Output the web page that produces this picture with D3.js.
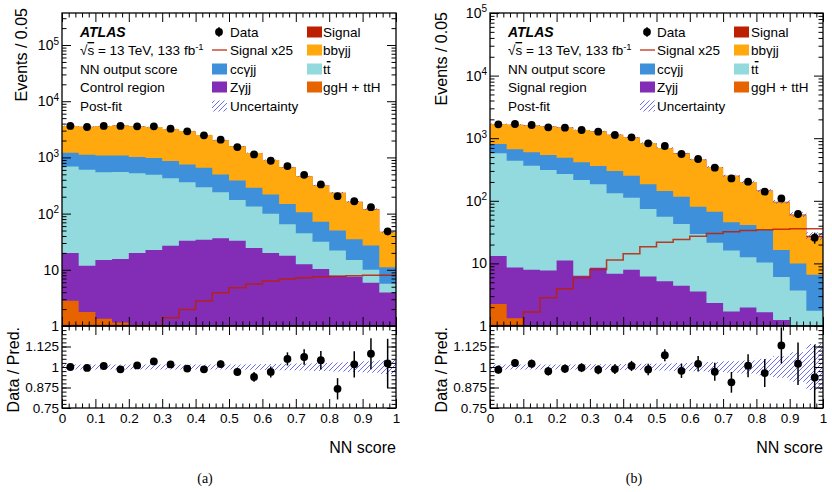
<!DOCTYPE html>
<html>
<head>
<meta charset="utf-8">
<script src="https://cdn.jsdelivr.net/npm/d3@7"></script>
<style>
  body { margin: 0; background: #fff; }
  svg { font-family: "Liberation Sans", Arial, sans-serif; }
  .axis path { display: none; }
  .axis line { stroke: #000; stroke-width: 1; }
  .axis text { font-size: 13.5px; fill: #000; font-family: "Liberation Sans", Arial, sans-serif; }
</style>
</head>
<body>
<div id="chart"></div>
<script>
// NN score bins (lower edges, width 0.05)
var binLow = [0, 0.05, 0.1, 0.15, 0.2, 0.25, 0.3, 0.35, 0.4, 0.45,
              0.5, 0.55, 0.6, 0.65, 0.7, 0.75, 0.8, 0.85, 0.9, 0.95];

// (a) control region, post-fit
var dataA   = [3630, 3480, 3630, 3630, 3580, 3580, 3250, 2913, 2470, 2067, 1530, 1132, 872, 700, 490, 330, 204, 166, 130, 48.4];
var bbyjjA  = [2419, 2385, 2522, 2596, 2531, 2489, 2339, 2192, 1851, 1533, 1189, 917, 681, 518, 356, 245, 185, 128, 93, 36];
var ccyjjA  = [520, 514, 539, 539, 489, 483, 433, 387, 359, 257, 213, 154, 119, 84, 61, 40, 28, 20, 17, 5.4];
var ttbarA  = [671, 590, 532, 532, 505, 468, 400, 330, 261, 204, 142, 109, 79, 47, 32, 21.3, 14.2, 7.5, 4.1, 1.7];
var zyjjA   = [17.1, 10.0, 13.6, 14.4, 19.1, 21.8, 26.2, 32.5, 33.9, 35.9, 32.7, 24.1, 19.7, 17.6, 12.4, 10.2, 7.7, 7.4, 5.8, 3.9];
var gghA    = [2.8, 1.78, 1.35, 1.15, 0.8, 0.7, 0.6, 0.5, 0.45, 0.4, 0.35, 0.3, 0.25, 0.2, 0.18, 0.15, 0.12, 0.1, 0.08, 0.05];
var sig25A  = [0.1, 0.2, 0.3, 0.45, 0.65, 0.9, 1.37, 1.93, 2.72, 3.83, 4.7, 5.5, 6.2, 6.7, 7.1, 7.4, 7.5, 7.7, 7.8, 7.8];
var uncA    = [0.015, 0.015, 0.015, 0.015, 0.015, 0.015, 0.015, 0.015, 0.015, 0.015, 0.016, 0.017, 0.018, 0.02, 0.022, 0.025, 0.028, 0.03, 0.035, 0.042];
var errA    = [0.017, 0.017, 0.017, 0.017, 0.017, 0.017, 0.018, 0.019, 0.02, 0.022, 0.025, 0.03, 0.034, 0.04, 0.047, 0.057, 0.065, 0.08, 0.095, 0.15];

// (b) signal region, post-fit
var dataB   = [1666, 1686, 1625, 1492, 1473, 1352, 1271, 1125, 1032, 828, 750, 559, 465, 338, 228, 202, 140, 109, 61.5, 25.8];
var bbyjjB  = [885, 982, 998, 993, 999, 945, 932, 840, 773, 657, 556, 456, 375, 280, 205, 158, 110, 78.6, 48.9, 19.6];
var ccyjjB  = [235, 226, 231, 229, 221, 197, 177, 167, 140, 109, 87, 73, 50.5, 45.6, 29.3, 28.5, 23.7, 10.3, 6.3, 4.8];
var ttbarB  = [560, 429, 356, 302, 257, 209, 175, 125, 104, 68, 50.6, 38.2, 26, 19, 14.3, 10.6, 8.7, 4.8, 2.8, 0.96];
var zyjjB   = [10.9, 7.3, 7.1, 7.1, 10.6, 5.9, 8.1, 6.5, 7.6, 5.9, 5.0, 4.2, 3.4, 2.2, 1.6, 1.9, 1.6, 1.2, 0.86, 0.77];
var gghB    = [2.25, 1.33, 0.8, 0.6, 0.5, 0.45, 0.4, 0.35, 0.3, 0.25, 0.2, 0.18, 0.15, 0.12, 0.1, 0.08, 0.06, 0.05, 0.04, 0.03];
var sig25B  = [0.5, 0.85, 1.65, 2.77, 3.85, 5.77, 7.85, 11.1, 14.0, 18.1, 21.4, 23.6, 26.7, 29.5, 31.4, 33.0, 33.8, 34.6, 35.0, 35.0];
var uncB    = [0.016, 0.016, 0.016, 0.016, 0.016, 0.016, 0.017, 0.018, 0.018, 0.02, 0.022, 0.024, 0.026, 0.03, 0.035, 0.04, 0.05, 0.065, 0.09, 0.14];
var errB    = [0.025, 0.025, 0.025, 0.026, 0.026, 0.027, 0.028, 0.03, 0.031, 0.035, 0.037, 0.043, 0.047, 0.055, 0.063, 0.07, 0.085, 0.11, 0.13, 0.2];

// stack order, bottom to top
var keys = ["ggh", "zyjj", "ttbar", "ccyjj", "bbyjj", "signal"];
var colors = {ggh: "#e76300", zyjj: "#832db6", ttbar: "#92dadd", ccyjj: "#3f90da", bbyjj: "#ffa90e", signal: "#bd1f01"};
var hatchColor = "#5b5bf0";

var panels = [
  {id: "a", data: dataA, bbyjj: bbyjjA, ccyjj: ccyjjA, ttbar: ttbarA, zyjj: zyjjA, ggh: gghA, sig25: sig25A, unc: uncA, err: errA,
   region: "Control region", caption: "(a)",
   x0: 62, x1: 396, yTop: 13, yMid: 326, yBot: 408, ymax: Math.pow(10, 5.57),
   eventsX: 27, eventsY: 8, ratioX: 19, capX: 205,
   legX: 80, c2Box: 212, c2Text: 230, c3Box: 307, c3Text: 323},
  {id: "b", data: dataB, bbyjj: bbyjjB, ccyjj: ccyjjB, ttbar: ttbarB, zyjj: zyjjB, ggh: gghB, sig25: sig25B, unc: uncB, err: errB,
   region: "Signal region", caption: "(b)",
   x0: 490, x1: 823, yTop: 13, yMid: 326, yBot: 408, ymax: 1e5,
   eventsX: 447, eventsY: 12, ratioX: 447, capX: 634,
   legX: 508, c2Box: 640, c2Text: 657, c3Box: 734, c3Text: 751}
];

var svg = d3.select("#chart").append("svg")
    .attr("width", 832)
    .attr("height", 492);

var defs = svg.append("defs");
defs.append("pattern")
    .attr("id", "hatch")
    .attr("patternUnits", "userSpaceOnUse")
    .attr("width", 5).attr("height", 5)
    .append("path")
    .attr("d", "M-1,1 l2,-2 M0,5 l5,-5 M4,6 l2,-2")
    .attr("stroke", hatchColor)
    .attr("stroke-width", 0.9);

panels.forEach(drawPanel);

function drawPanel(p) {
    var g = svg.append("g");
    var x = d3.scaleLinear().domain([0, 1]).range([p.x0, p.x1]);
    var y = d3.scaleLog().domain([1, p.ymax]).range([p.yMid, p.yTop]).clamp(true);
    var yr = d3.scaleLinear().domain([0.75, 1.25]).range([p.yBot, p.yMid]);
    var ys = function(v) { return y(Math.max(v, 1e-3)); };

    // table for the stack; repeat last bin at x = 1 to close the steps
    var rows = binLow.map(function(lo, i) {
        return {x: lo, ggh: p.ggh[i], zyjj: p.zyjj[i], ttbar: p.ttbar[i], ccyjj: p.ccyjj[i],
                bbyjj: p.bbyjj[i], signal: p.sig25[i] / 25, sig25: p.sig25[i], unc: p.unc[i]};
    });
    rows.forEach(function(r) { r.total = d3.sum(keys, function(k) { return r[k]; }); });
    var stepRows = rows.concat([Object.assign({}, rows[rows.length - 1], {x: 1})]);
    var series = d3.stack().keys(keys)(stepRows);

    var clipMain = "clipMain" + p.id, clipRatio = "clipRatio" + p.id;
    defs.append("clipPath").attr("id", clipMain).append("rect")
        .attr("x", p.x0).attr("y", p.yTop).attr("width", p.x1 - p.x0).attr("height", p.yMid - p.yTop);
    defs.append("clipPath").attr("id", clipRatio).append("rect")
        .attr("x", p.x0).attr("y", p.yMid).attr("width", p.x1 - p.x0).attr("height", p.yBot - p.yMid);

    var main = g.append("g").attr("clip-path", "url(#" + clipMain + ")");

    // stacked histograms, drawn top-down each filled to the floor
    var area = d3.area()
        .curve(d3.curveStepAfter)
        .x(function(d) { return x(d.data.x); })
        .y0(p.yMid)
        .y1(function(d) { return ys(d[1]); });
    main.selectAll(".layer")
        .data(series.slice().reverse())
        .enter().append("path")
        .attr("class", "layer")
        .attr("d", area)
        .attr("fill", function(d) { return colors[d.key]; });

    // signal x25 line
    var sigLine = d3.line()
        .curve(d3.curveStepAfter)
        .x(function(d) { return x(d.x); })
        .y(function(d) { return ys(d.sig25) - 0.5; });
    main.append("path")
        .attr("d", sigLine(stepRows))
        .attr("fill", "none")
        .attr("stroke", "#bd1f01")
        .attr("stroke-width", 1.5)
        .attr("stroke-opacity", 0.85);

    // uncertainty band
    var band = d3.area()
        .curve(d3.curveStepAfter)
        .x(function(d) { return x(d.x); })
        .y0(function(d) { return ys(d.total * (1 - d.unc)); })
        .y1(function(d) { return ys(d.total * (1 + d.unc)); });
    main.append("path").attr("d", band(stepRows)).attr("fill", "url(#hatch)");

    // data points
    var pts = binLow.map(function(lo, i) {
        return {x: lo + 0.025, v: p.data[i], r: p.data[i] / rows[i].total, e: p.err[i]};
    });
    main.selectAll(".err").data(pts).enter().append("line")
        .attr("x1", function(d) { return x(d.x); }).attr("x2", function(d) { return x(d.x); })
        .attr("y1", function(d) { return ys(d.v * (1 - d.e)); })
        .attr("y2", function(d) { return ys(d.v * (1 + d.e)); })
        .attr("stroke", "#000").attr("stroke-width", 1.5);
    main.selectAll(".pt").data(pts).enter().append("circle")
        .attr("cx", function(d) { return x(d.x); })
        .attr("cy", function(d) { return ys(d.v); })
        .attr("r", 3.9).attr("fill", "#000");

    // ratio panel
    var ratio = g.append("g").attr("clip-path", "url(#" + clipRatio + ")");
    var rband = d3.area()
        .curve(d3.curveStepAfter)
        .x(function(d) { return x(d.x); })
        .y0(function(d) { return yr(1 - d.unc); })
        .y1(function(d) { return yr(1 + d.unc); });
    ratio.append("path").attr("d", rband(stepRows)).attr("fill", "url(#hatch)");
    ratio.selectAll(".rerr").data(pts).enter().append("line")
        .attr("x1", function(d) { return x(d.x); }).attr("x2", function(d) { return x(d.x); })
        .attr("y1", function(d) { return yr(d.r - d.e); })
        .attr("y2", function(d) { return yr(d.r + d.e); })
        .attr("stroke", "#000").attr("stroke-width", 1.5);
    ratio.selectAll(".rpt").data(pts).enter().append("circle")
        .attr("cx", function(d) { return x(d.x); })
        .attr("cy", function(d) { return yr(d.r); })
        .attr("r", 3.9).attr("fill", "#000");

    // frames
    g.append("rect").attr("x", p.x0).attr("y", p.yTop).attr("width", p.x1 - p.x0).attr("height", p.yMid - p.yTop)
        .attr("fill", "none").attr("stroke", "#000").attr("stroke-width", 1.3);
    g.append("rect").attr("x", p.x0).attr("y", p.yMid).attr("width", p.x1 - p.x0).attr("height", p.yBot - p.yMid)
        .attr("fill", "none").attr("stroke", "#000").attr("stroke-width", 1.3);

    // x ticks (inward) on every horizontal edge
    var xMajor = d3.range(0, 11).map(function(i) { return i / 10; });
    var xMinor = d3.range(0, 51).map(function(i) { return i / 50; }).filter(function(v) { return Math.round(v * 50) % 5 != 0; });
    [[p.yTop, d3.axisBottom], [p.yMid, d3.axisTop], [p.yMid, d3.axisBottom]].forEach(function(s) {
        g.append("g").attr("class", "axis").attr("transform", "translate(0," + s[0] + ")")
            .call(s[1](x).tickValues(xMajor).tickSize(9).tickSizeOuter(0).tickFormat(""));
        g.append("g").attr("class", "axis").attr("transform", "translate(0," + s[0] + ")")
            .call(s[1](x).tickValues(xMinor).tickSize(4.5).tickSizeOuter(0).tickFormat(""));
    });
    g.append("g").attr("class", "axis").attr("transform", "translate(0," + p.yBot + ")")
        .call(d3.axisBottom(x).tickValues(xMajor).tickSize(-9).tickSizeOuter(0).tickPadding(5)
              .tickFormat(function(d) { return d3.format("~g")(d); }));
    g.append("g").attr("class", "axis").attr("transform", "translate(0," + p.yBot + ")")
        .call(d3.axisBottom(x).tickValues(xMinor).tickSize(-4.5).tickSizeOuter(0).tickFormat(""));

    // log y ticks
    var decades = d3.range(0, 6).map(function(k) { return Math.pow(10, k); }).filter(function(v) { return v <= p.ymax; });
    var minors = [];
    decades.forEach(function(dv) {
        d3.range(2, 10).forEach(function(m) { if (dv * m <= p.ymax) minors.push(dv * m); });
    });
    var left = g.append("g").attr("class", "axis").attr("transform", "translate(" + p.x0 + ",0)")
        .call(d3.axisLeft(y).tickValues(decades).tickSize(-9).tickSizeOuter(0).tickPadding(3).tickFormat(""));
    left.selectAll(".tick text").each(function(d) {
        var t = d3.select(this).style("font-size", "14px");
        var k = Math.round(Math.log10(d));
        if (k == 0) t.text("1");
        else if (k == 1) t.text("10");
        else {
            t.text("10");
            t.append("tspan").attr("dy", "-0.55em").style("font-size", "10px").text(k);
        }
    });
    g.append("g").attr("class", "axis").attr("transform", "translate(" + p.x0 + ",0)")
        .call(d3.axisLeft(y).tickValues(minors).tickSize(-4.5).tickSizeOuter(0).tickFormat(""));
    g.append("g").attr("class", "axis").attr("transform", "translate(" + p.x1 + ",0)")
        .call(d3.axisRight(y).tickValues(decades).tickSize(-9).tickSizeOuter(0).tickFormat(""));
    g.append("g").attr("class", "axis").attr("transform", "translate(" + p.x1 + ",0)")
        .call(d3.axisRight(y).tickValues(minors).tickSize(-4.5).tickSizeOuter(0).tickFormat(""));

    // ratio y ticks
    var rMajor = [0.75, 0.875, 1, 1.125];
    var rMinor = d3.range(0, 21).map(function(i) { return 0.75 + i * 0.025; });
    g.append("g").attr("class", "axis").attr("transform", "translate(" + p.x0 + ",0)")
        .call(d3.axisLeft(yr).tickValues(rMajor).tickSize(-9).tickSizeOuter(0).tickPadding(3)
              .tickFormat(function(d) { return d3.format("~g")(d); }));
    g.append("g").attr("class", "axis").attr("transform", "translate(" + p.x0 + ",0)")
        .call(d3.axisLeft(yr).tickValues(rMinor).tickSize(-4.5).tickSizeOuter(0).tickFormat(""));
    g.append("g").attr("class", "axis").attr("transform", "translate(" + p.x1 + ",0)")
        .call(d3.axisRight(yr).tickValues(rMajor).tickSize(-9).tickSizeOuter(0).tickFormat(""));
    g.append("g").attr("class", "axis").attr("transform", "translate(" + p.x1 + ",0)")
        .call(d3.axisRight(yr).tickValues(rMinor).tickSize(-4.5).tickSizeOuter(0).tickFormat(""));

    // axis titles
    g.append("text").attr("transform", "translate(" + p.eventsX + "," + p.eventsY + ") rotate(-90)")
        .attr("text-anchor", "end").style("font-size", "16px").text("Events / 0.05");
    g.append("text").attr("transform", "translate(" + p.ratioX + "," + (p.yMid + 1) + ") rotate(-90)")
        .attr("text-anchor", "end").style("font-size", "16px").text("Data / Pred.");
    g.append("text").attr("x", p.x1).attr("y", 453)
        .attr("text-anchor", "end").style("font-size", "16px").text("NN score");
    g.append("text").attr("x", p.capX).attr("y", 483)
        .attr("text-anchor", "middle").style("font-family", "'Liberation Serif', 'Times New Roman', serif")
        .style("font-size", "14px").text(p.caption);

    // legend
    var rowY = [32, 50, 69, 87, 106];
    var leg = g.append("g").style("font-size", "13.5px");
    leg.append("text").attr("x", p.legX).attr("y", rowY[0] + 5)
        .style("font-weight", "bold").style("font-style", "italic").style("font-size", "14px").text("ATLAS");
    var rs = leg.append("text").attr("x", p.legX).attr("y", rowY[1] + 5);
    rs.append("tspan").text("\u221a");
    rs.append("tspan").style("text-decoration", "overline").text("s");
    rs.append("tspan").text(" = 13 TeV, 133 fb");
    rs.append("tspan").attr("dy", -5).style("font-size", "9.5px").text("-1");
    leg.append("text").attr("x", p.legX).attr("y", rowY[2] + 5).text("NN output score");
    leg.append("text").attr("x", p.legX).attr("y", rowY[3] + 5).text(p.region);
    leg.append("text").attr("x", p.legX).attr("y", rowY[4] + 5).text("Post-fit");

    var mx = p.c2Box + 7;
    leg.append("line").attr("x1", mx).attr("x2", mx).attr("y1", rowY[0] - 5).attr("y2", rowY[0] + 5)
        .attr("stroke", "#000").attr("stroke-width", 1.2);
    leg.append("circle").attr("cx", mx).attr("cy", rowY[0]).attr("r", 3.9).attr("fill", "#000");
    leg.append("line").attr("x1", p.c2Box).attr("x2", p.c2Box + 15).attr("y1", rowY[1]).attr("y2", rowY[1])
        .attr("stroke", "#d9776a").attr("stroke-width", 2);
    leg.append("rect").attr("x", p.c2Box).attr("y", rowY[2] - 5.5).attr("width", 15).attr("height", 11).attr("fill", colors.ccyjj);
    leg.append("rect").attr("x", p.c2Box).attr("y", rowY[3] - 5.5).attr("width", 15).attr("height", 11).attr("fill", colors.zyjj);
    leg.append("rect").attr("x", p.c2Box).attr("y", rowY[4] - 5.5).attr("width", 15).attr("height", 11).attr("fill", "url(#hatch)");
    [["Data", 0], ["Signal x25", 1], ["cc\u03b3jj", 2], ["Z\u03b3jj", 3], ["Uncertainty", 4]].forEach(function(e) {
        leg.append("text").attr("x", p.c2Text).attr("y", rowY[e[1]] + 5).text(e[0]);
    });

    [["signal", "Signal"], ["bbyjj", "bb\u03b3jj"], ["ttbar", null], ["ggh", "ggH + ttH"]].forEach(function(e, i) {
        leg.append("rect").attr("x", p.c3Box).attr("y", rowY[i] - 5.5).attr("width", 15).attr("height", 11).attr("fill", colors[e[0]]);
        var t = leg.append("text").attr("x", p.c3Text).attr("y", rowY[i] + 5);
        if (e[1]) t.text(e[1]);
        else {
            t.append("tspan").text("t");
            t.append("tspan").style("text-decoration", "overline").text("t");
        }
    });
}
</script>
</body>
</html>
